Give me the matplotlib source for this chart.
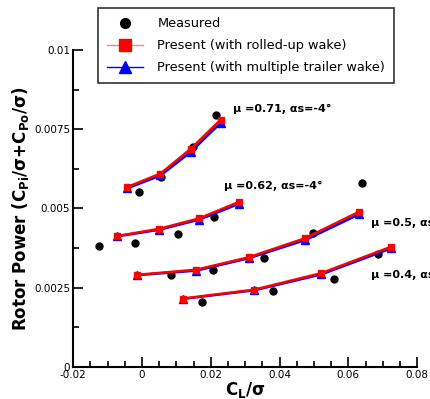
import matplotlib.pyplot as plt
from matplotlib.ticker import MultipleLocator, FormatStrFormatter

# measured data (CL/sigma, power)
meas_x = [-0.0007, 0.0056, 0.0148, 0.0214,
          -0.0124, -0.0020, 0.0106, 0.0209,
          0.0086, 0.0206, 0.0355, 0.0497, 0.0639,
          0.0174, 0.0380, 0.0557, 0.0685]
meas_y = [0.00552, 0.00598, 0.00695, 0.00795,
          0.00382, 0.00392, 0.00421, 0.00472,
          0.00290, 0.00306, 0.00345, 0.00422, 0.00581,
          0.00205, 0.00241, 0.00278, 0.00358]

# present method, one list per advance ratio
mu71_x = [-0.0044, 0.0054, 0.0142, 0.0229]
mu71_roll = [0.00567, 0.00610, 0.00688, 0.00780]
mu71_multi = [0.00563, 0.00604, 0.00678, 0.00770]

mu62_x = [-0.0073, 0.0051, 0.0167, 0.0283]
mu62_roll = [0.00413, 0.00436, 0.00469, 0.00521]
mu62_multi = [0.00412, 0.00433, 0.00465, 0.00515]

mu50_x = [-0.0013, 0.0158, 0.0310, 0.0474, 0.0632]
mu50_roll = [0.00291, 0.00307, 0.00346, 0.00406, 0.00490]
mu50_multi = [0.00290, 0.00304, 0.00343, 0.00400, 0.00482]

mu40_x = [0.0119, 0.0326, 0.0521, 0.0724]
mu40_roll = [0.00216, 0.00244, 0.00296, 0.00379]
mu40_multi = [0.00215, 0.00242, 0.00292, 0.00374]

labels = ['\u03bc =0.71, \u03b1s=-4\u00b0', '\u03bc =0.62, \u03b1s=-4\u00b0',
          '\u03bc =0.5, \u03b1s=-4\u00b0', '\u03bc =0.4, \u03b1s=-4\u00b0']
label_x = [0.0265, 0.0239, 0.0666, 0.0666]
label_y = [0.00814, 0.00571, 0.00454, 0.00290]

fig = plt.figure(figsize=(4.30, 3.99), dpi=100)
ax = fig.add_axes([0.170, 0.080, 0.800, 0.795])

h_meas, = ax.plot(meas_x, meas_y, 'o', color='black', ms=5, ls='none', zorder=2)
series = [(mu71_x, mu71_roll, mu71_multi), (mu62_x, mu62_roll, mu62_multi),
          (mu50_x, mu50_roll, mu50_multi), (mu40_x, mu40_roll, mu40_multi)]
for x, roll, multi in series:
    h_multi, = ax.plot(x, multi, '-^', color='blue', lw=1.8, ms=5.5, zorder=3)
    h_roll, = ax.plot(x, roll, '-s', color='red', mfc='red', lw=1.8, ms=5, zorder=4)

for t, lx, ly in zip(labels, label_x, label_y):
    ax.text(lx, ly, t, fontsize=8, fontweight='bold', va='center', clip_on=False)

ax.set_xlim(-0.02, 0.08)
ax.set_ylim(0, 0.01)
ax.xaxis.set_major_locator(MultipleLocator(0.02))
ax.xaxis.set_minor_locator(MultipleLocator(0.005))
ax.yaxis.set_major_locator(MultipleLocator(0.0025))
ax.yaxis.set_minor_locator(MultipleLocator(0.00125))
ax.xaxis.set_major_formatter(FormatStrFormatter('%g'))
ax.yaxis.set_major_formatter(FormatStrFormatter('%g'))
ax.tick_params(which='both', direction='in', labelsize=7.5, width=1.2)
ax.tick_params(which='major', length=7, pad=2)
ax.tick_params(which='minor', length=4)
ax.spines['top'].set_visible(False)
ax.spines['right'].set_visible(False)
ax.spines['left'].set_linewidth(1.5)
ax.spines['bottom'].set_linewidth(1.5)

ax.set_xlabel('C$_\\mathbf{L}$/\u03c3', fontsize=12, fontweight='bold', labelpad=0)
ax.set_ylabel('Rotor Power (C$_\\mathbf{Pi}$/\u03c3+C$_\\mathbf{Po}$/\u03c3)',
              fontsize=12, fontweight='bold', labelpad=2)

leg = fig.legend([h_meas, h_roll, h_multi],
                 ['Measured', 'Present (with rolled-up wake)',
                  'Present (with multiple trailer wake)'],
                 loc='upper left', bbox_to_anchor=(98 / 430, 1 - 8 / 399),
                 fontsize=9.3, frameon=True, fancybox=False, edgecolor='black',
                 borderpad=0.7, labelspacing=0.7, handlelength=2.8,
                 handletextpad=1.1, borderaxespad=0)
leg.get_frame().set_linewidth(1.2)
lines = leg.get_lines()
lines[0].set_markersize(7)
lines[1].set_color('#ff8080')
lines[1].set_markerfacecolor('red')
lines[1].set_markeredgecolor('red')
lines[1].set_markersize(8)
lines[1].set_linewidth(1)
lines[2].set_linewidth(1)
lines[2].set_markersize(8)

fig.savefig('out.png', dpi=100)
